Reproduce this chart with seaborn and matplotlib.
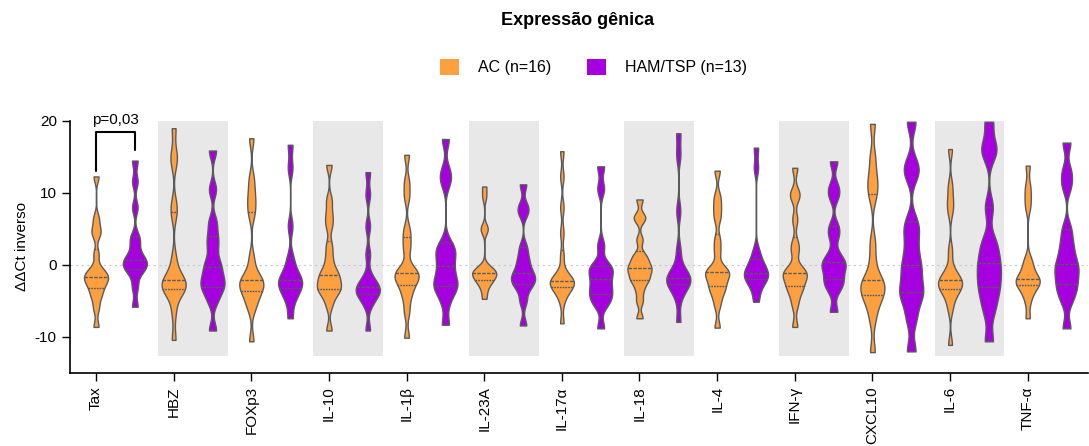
"""
Violin plot of relative gene expression (AC vs HAM/TSP)
"""

import numpy as np
import pandas as pd
import matplotlib
matplotlib.use("Agg")
import matplotlib.pyplot as plt
from matplotlib.patches import Patch, Rectangle
import seaborn as sns

genes = ["Tax", "HBZ", "FOXp3", "IL-10", "IL-1β", "IL-23A", "IL-17α",
         "IL-18", "IL-4", "IFN-γ", "CXCL10", "IL-6", "TNF-α"]
groups = ["AC (n=16)", "HAM/TSP (n=13)"]
shaded = ["HBZ", "IL-10", "IL-23A", "IL-18", "IFN-γ", "IL-6"]

# ddCt values, one list per gene and group
tax_ac = [12.3, 6.5, 5.0, 4.2, 1.5, -0.5, -1.0, -1.5, -1.7, -2.0, -2.5, -3.0, -3.8, -4.5, -6.0, -8.6]
tax_ham = [14.5, 11.6, 8.0, 4.0, 3.0, 1.5, 0.7, 0.5, 0.0, -0.5, -1.0, -3.0, -5.8]
hbz_ac = [19.0, 15.5, 14.2, 8.5, 7.0, 1.0, -1.0, -2.0, -2.3, -2.5, -2.8, -3.3, -3.5, -4.0, -6.5, -10.4]
hbz_ham = [15.9, 10.5, 6.0, 4.0, 2.5, 0.5, -0.3, -1.5, -2.2, -3.0, -3.5, -5.0, -9.1]
foxp3_ac = [17.6, 12.0, 10.0, 8.5, 7.0, 1.0, -1.0, -2.0, -2.3, -2.5, -2.8, -3.5, -4.0, -5.0, -6.0, -10.6]
foxp3_ham = [16.7, 13.5, 5.4, 1.0, -0.5, -1.5, -2.1, -2.3, -2.8, -3.2, -4.0, -5.0, -7.4]
il10_ac = [13.9, 9.0, 7.0, 5.5, 2.7, 1.0, -0.5, -1.2, -1.6, -2.2, -2.8, -3.2, -3.6, -4.0, -5.5, -9.1]
il10_ham = [12.9, 9.8, 5.4, 1.5, -1.5, -2.5, -3.0, -3.3, -3.6, -4.0, -4.5, -5.5, -9.1]
il1b_ac = [15.3, 11.5, 9.5, 5.0, 3.5, 2.0, -0.5, -1.0, -1.2, -1.6, -2.0, -2.5, -3.5, -4.5, -6.5, -10.1]
il1b_ham = [17.5, 13.0, 11.5, 3.0, 1.8, 1.5, -0.2, -1.0, -2.5, -2.9, -3.2, -5.0, -8.3]
il23a_ac = [10.9, 9.5, 5.1, 4.9, -0.3, -0.6, -0.8, -1.0, -1.2, -1.4, -1.6, -2.0, -2.3, -2.6, -3.5, -4.7]
il23a_ham = [11.2, 8.2, 7.2, 2.5, 1.0, 0.0, -1.1, -1.5, -2.0, -2.6, -3.2, -5.0, -8.4]
il17a_ac = [15.8, 12.3, 8.0, 4.5, 1.3, -1.0, -1.8, -2.1, -2.3, -2.4, -2.6, -2.9, -3.3, -3.8, -5.0, -8.1]
il17a_ham = [13.7, 10.6, 2.7, -0.2, -0.3, -0.8, -1.9, -2.5, -3.5, -4.0, -4.8, -5.5, -8.8]
il18_ac = [9.1, 6.8, 6.3, 3.5, 1.5, 0.9, 0.3, -0.3, -0.5, -0.9, -1.5, -2.0, -2.4, -3.5, -5.0, -7.4]
il18_ham = [18.3, 15.3, 7.5, 2.0, -0.5, -1.2, -1.8, -2.0, -2.3, -2.6, -3.0, -4.5, -7.9]
il4_ac = [13.1, 9.5, 8.0, 6.5, 3.5, 1.8, -0.5, -0.9, -1.0, -1.3, -2.0, -2.8, -3.3, -4.0, -5.5, -8.7]
il4_ham = [16.3, 13.5, 2.0, 0.8, 0.0, -0.5, -1.1, -1.3, -1.6, -2.0, -2.4, -3.5, -5.1]
ifng_ac = [13.5, 10.0, 9.5, 6.3, 3.0, 1.8, -0.5, -1.0, -1.1, -1.4, -2.0, -2.8, -3.2, -4.0, -5.5, -8.6]
ifng_ham = [14.4, 10.9, 9.5, 5.4, 4.0, 1.5, 0.4, 0.0, -0.6, -1.9, -2.4, -3.5, -6.5]
cxcl10_ac = [19.6, 15.0, 12.5, 11.0, 9.5, 3.2, 0.5, -2.0, -2.2, -2.6, -3.3, -4.0, -4.5, -5.5, -7.5, -12.1]
cxcl10_ham = [19.9, 14.0, 12.5, 6.0, 4.3, 2.0, 0.0, -1.0, -3.0, -3.8, -5.0, -7.5, -12.0]
il6_ac = [16.1, 11.0, 9.0, 7.5, 2.0, -0.5, -1.5, -2.0, -2.3, -2.5, -2.8, -3.2, -3.6, -4.5, -6.0, -11.1]
il6_ham = [19.9, 16.5, 15.5, 8.0, 3.4, 2.0, 0.3, -0.5, -2.0, -3.1, -4.5, -6.5, -10.6]
tnfa_ac = [13.8, 11.0, 9.5, 8.0, 0.8, 0.0, -0.8, -1.9, -2.0, -2.1, -2.3, -2.6, -3.2, -3.8, -5.0, -7.4]
tnfa_ham = [17.0, 13.0, 11.0, 5.0, 3.0, 1.5, 0.1, -0.5, -1.5, -2.7, -3.5, -5.0, -8.8]

ac_lists = [tax_ac, hbz_ac, foxp3_ac, il10_ac, il1b_ac, il23a_ac, il17a_ac,
            il18_ac, il4_ac, ifng_ac, cxcl10_ac, il6_ac, tnfa_ac]
ham_lists = [tax_ham, hbz_ham, foxp3_ham, il10_ham, il1b_ham, il23a_ham, il17a_ham,
             il18_ham, il4_ham, ifng_ham, cxcl10_ham, il6_ham, tnfa_ham]

rows = []
for gene, ac, ham in zip(genes, ac_lists, ham_lists):
    rows += [(gene, groups[0], v) for v in ac]
    rows += [(gene, groups[1], v) for v in ham]
df = pd.DataFrame(rows, columns=["gene", "group", "value"])

colors = ["#FFA040", "#A600E0"]

sns.set_style("ticks")
plt.rcParams["font.family"] = ["Liberation Sans", "DejaVu Sans"]
plt.rcParams["axes.unicode_minus"] = False
plt.rcParams["text.color"] = "black"
plt.rcParams["axes.labelcolor"] = "black"
plt.rcParams["xtick.color"] = "black"
plt.rcParams["ytick.color"] = "black"

fig = plt.figure(figsize=(10.89, 4.46), dpi=100)
ax = fig.add_axes([0.0643, 0.1637, 0.935, 0.565])

# grey bands behind every other gene
for i, g in enumerate(genes):
    if g in shaded:
        ax.add_patch(Rectangle((i - 0.45, -12.7), 0.9, 32.9,
                               facecolor="#E8E8E8", edgecolor="none", zorder=0))

ax.axhline(0, color="#C8C8C8", lw=0.8, ls=(0, (2, 3)), zorder=0.5)

sns.violinplot(data=df, x="gene", y="value", hue="group", order=genes,
               hue_order=groups, palette=colors, saturation=1,
               width=1.0, gap=0.38, cut=0, bw_adjust=0.27,
               density_norm="width", inner="quart", linewidth=1,
               linecolor="#5A5A5A", legend=False, ax=ax)

ax.set_xlim(-0.585, 12.53)
ax.set_ylim(-15, 20)
ax.set_yticks([-10, 0, 10, 20])
ax.set_xticks(np.arange(len(genes)) - 0.25)
ax.set_xticklabels(genes, rotation=90, fontsize=11)
ax.tick_params(axis="y", labelsize=11, length=6, width=1)
ax.tick_params(axis="x", length=6, width=1)
ax.set_xlabel("")
ax.set_ylabel("ΔΔCt inverso", fontsize=11)
for side in ["top", "right"]:
    ax.spines[side].set_visible(False)
for side in ["left", "bottom"]:
    ax.spines[side].set_color("black")
    ax.spines[side].set_linewidth(1.2)

# significance bracket for Tax
ax.plot([-0.25, -0.25, 0.25, 0.25], [13.1, 18.5, 18.5, 16.0],
        color="black", lw=1.5, clip_on=False)
ax.text(0.0, 19.2, "p=0,03", ha="center", va="bottom", fontsize=11)

fig.text(0.53, 0.955, "Expressão gênica", ha="center", va="center",
         fontsize=13, fontweight="bold")
handles = [Patch(facecolor=c, edgecolor="none") for c in colors]
fig.legend(handles, groups, loc="center", bbox_to_anchor=(0.545, 0.85),
           ncol=2, frameon=False, fontsize=11.5, handlelength=1.2,
           handleheight=1.2, columnspacing=2.2, handletextpad=1.2)

fig.savefig("out.png", dpi=100)
